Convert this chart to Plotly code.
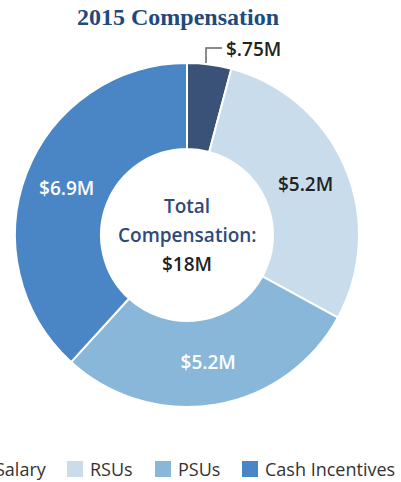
import plotly.graph_objects as go

# ---- data ----
categories = ["Salary", "RSUs", "PSUs", "Cash Incentives"]
values = [0.75, 5.2, 5.2, 6.9]          # $M
colors = ["#3A5277", "#C9DCEC", "#88B7DA", "#4A86C6"]
label_colors = ["#222222", "#222222", "#FFFFFF", "#FFFFFF"]
title_text = "2015 Compensation"
center_title = ["Total", "Compensation:"]

W, H = 401, 482


def px(x):
    return x / W


def py(y):
    return 1 - y / H


def fmt(v):
    s = f"{v:g}"
    if s.startswith("0."):
        s = s[1:]
    return f"${s}M"


labels_txt = [fmt(v) for v in values]
inside_txt = ["" if v / sum(values) < 0.05 else t for v, t in zip(values, labels_txt)]
total = sum(values)

fig = go.Figure()
fig.add_trace(go.Pie(
    labels=categories,
    values=values,
    sort=False,
    direction="clockwise",
    rotation=0,
    hole=0.5,
    marker=dict(colors=colors, line=dict(color="white", width=2)),
    text=inside_txt,
    textinfo="text",
    textposition="inside",
    insidetextorientation="horizontal",
    textfont=dict(family="Open Sans", size=19, color=label_colors, weight=600),
    hoverinfo="skip",
    showlegend=False,
    domain=dict(x=[px(15), px(359)], y=[py(407), py(63)]),
))

annotations = []
shapes = []

# centre text (three lines)
center_lines = [(center_title[0], "#2E4A78", 206),
                (center_title[1], "#2E4A78", 235),
                (f"${total:.0f}M", "#222222", 264)]
for txt, col, yy in center_lines:
    annotations.append(dict(
        x=px(187), y=py(yy), xref="paper", yref="paper", showarrow=False,
        text=txt, font=dict(family="Open Sans", size=19, weight=600, color=col),
        xanchor="center", yanchor="middle",
    ))

# small-slice outside label with elbow leader
annotations.append(dict(
    x=px(224), y=py(49), xref="paper", yref="paper", showarrow=False,
    text=labels_txt[0], xanchor="left", yanchor="middle",
    font=dict(family="Open Sans", size=19, color="#222222", weight=600),
))
shapes.append(dict(
    type="path", xref="paper", yref="paper",
    path=f"M {px(206)},{py(63)} L {px(206)},{py(48)} L {px(222)},{py(48)}",
    line=dict(color="#666666", width=1.5),
))

# manual legend (one row, wider than the canvas, clipped at the left)
legend_x = [-28, 67, 155, 242]
legend_y = 469
for cat, col, lx in zip(categories, colors, legend_x):
    shapes.append(dict(
        type="rect", xref="paper", yref="paper",
        x0=px(lx), x1=px(lx + 16), y0=py(legend_y + 8), y1=py(legend_y - 8),
        fillcolor=col, line=dict(width=0),
    ))
    annotations.append(dict(
        x=px(lx + 21), y=py(legend_y), xref="paper", yref="paper", showarrow=False,
        text=cat, xanchor="left", yanchor="middle",
        font=dict(family="Open Sans", size=18, color="#333333"),
    ))

fig.update_layout(
    width=W, height=H,
    margin=dict(l=0, r=0, t=0, b=0, autoexpand=False),
    paper_bgcolor="white", plot_bgcolor="white",
    title=dict(
        text=title_text, x=px(178), xanchor="center", y=1 - 17 / H, yanchor="middle",
        font=dict(family="Liberation Serif", size=24, color="#1F4A7C", weight="bold"),
    ),
    annotations=annotations,
    shapes=shapes,
    showlegend=False,
)

fig.write_html("out.html", config={"displayModeBar": False},
               post_script="document.body.style.margin='0';")
